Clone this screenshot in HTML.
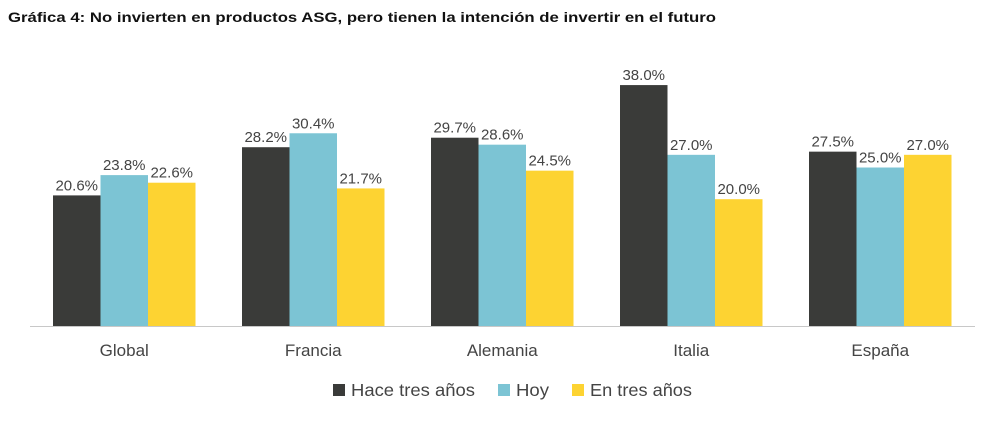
<!DOCTYPE html>
<html><head><meta charset="utf-8"><style>
body{margin:0;background:#fff;font-family:"Liberation Sans",Arial,sans-serif;}
svg text{font-family:"Liberation Sans",Arial,sans-serif;}
</style></head><body>
<svg id="c" width="988" height="432" xmlns="http://www.w3.org/2000/svg">
<text x="8" y="22" font-size="14" font-weight="bold" fill="#111" textLength="708" lengthAdjust="spacingAndGlyphs">Gráfica 4: No invierten en productos ASG, pero tienen la intención de invertir en el futuro</text>
<line x1="30" y1="326.5" x2="975" y2="326.5" stroke="#c8c8c8" stroke-width="1"/>
<g id="bars"></g>
<g>
<rect x="333" y="384" width="12" height="12" fill="#3a3b39"/>
<text x="351" y="396" font-size="17.5" fill="#444" textLength="124" lengthAdjust="spacingAndGlyphs">Hace tres años</text>
<rect x="498" y="384" width="12" height="12" fill="#7cc4d4"/>
<text x="516" y="396" font-size="17.5" fill="#444" textLength="33" lengthAdjust="spacingAndGlyphs">Hoy</text>
<rect x="572" y="384" width="12" height="12" fill="#fdd332"/>
<text x="590" y="396" font-size="17.5" fill="#444" textLength="102" lengthAdjust="spacingAndGlyphs">En tres años</text>
</g>
</svg>
<script>
const categories=["Global","Francia","Alemania","Italia","España"];
const haceTres=[20.6,28.2,29.7,38.0,27.5];
const hoy=[23.8,30.4,28.6,27.0,25.0];
const enTres=[22.6,21.7,24.5,20.0,27.0];
const seriesNames=["hace-tres-anos","hoy","en-tres-anos"];
const colors=["#3a3b39","#7cc4d4","#fdd332"];
const baseY=326, pxPer=6.34, x0=53, groupW=189, barW=47.5;
const y=v=>baseY-v*pxPer;
const g=document.getElementById('bars');
const ns="http://www.w3.org/2000/svg";
[haceTres,hoy,enTres].forEach((s,si)=>{
  s.forEach((v,i)=>{
    const x=x0+i*groupW+si*barW;
    const r=document.createElementNS(ns,'rect');
    r.setAttribute('x',x);r.setAttribute('y',y(v));
    r.setAttribute('width',barW);r.setAttribute('height',baseY-y(v));
    r.setAttribute('fill',colors[si]);
    
    
    g.appendChild(r);
    const t=document.createElementNS(ns,'text');
    t.setAttribute('x',x+barW/2);t.setAttribute('y',y(v)-5);
    t.setAttribute('text-anchor','middle');t.setAttribute('font-size','15');t.setAttribute('fill','#444');
    t.textContent=v.toFixed(1)+'%';
    
    
    g.appendChild(t);
  });
});
categories.forEach((c,i)=>{
  const t=document.createElementNS(ns,'text');
  t.setAttribute('x',x0+i*groupW+barW*1.5);t.setAttribute('y',356);
  t.setAttribute('text-anchor','middle');t.setAttribute('font-size','17');t.setAttribute('fill','#444');
  t.textContent=c;
  
  
  g.appendChild(t);
});
</script>
</body></html>
